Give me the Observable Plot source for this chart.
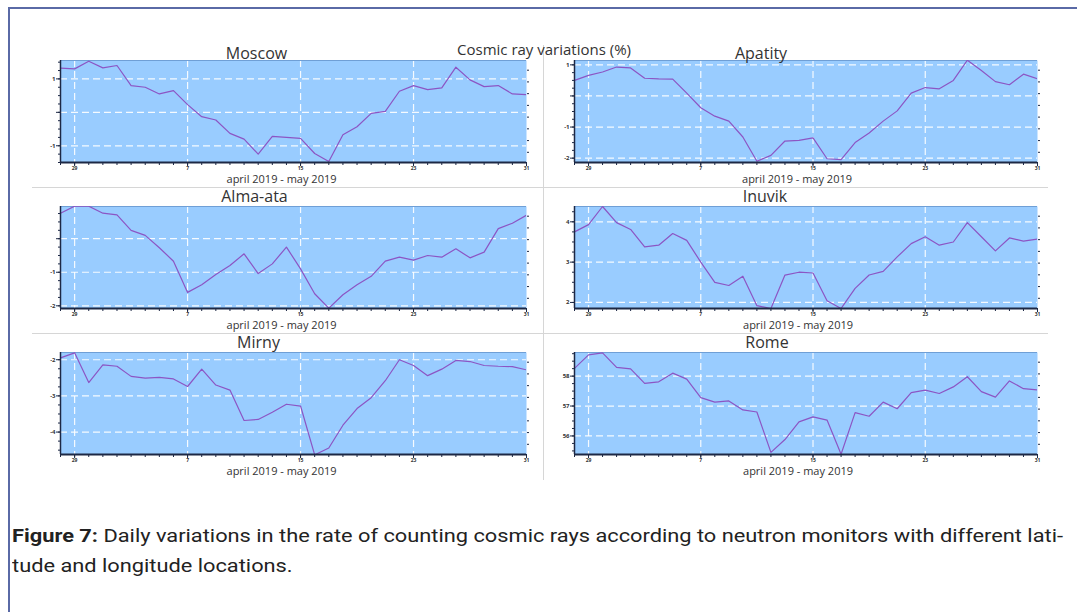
<!DOCTYPE html>
<html>
<head>
<meta charset="utf-8">
<script src="https://cdn.jsdelivr.net/npm/d3@7"></script>
<script src="https://cdn.jsdelivr.net/npm/@observablehq/plot@0.6"></script>
<style>
  html, body { margin: 0; padding: 0; background: #fff; }
  body { width: 1077px; height: 612px; position: relative; overflow: hidden; font-family: "Open Sans", "Noto Sans", sans-serif; }
  #frame { position: absolute; left: 8px; top: 7px; width: 1100px; height: 700px; border-top: 2px solid #5a6aa6; border-left: 2px solid #5a6aa6; box-sizing: border-box; }
  .panel { position: absolute; }
  .sep { position: absolute; background: #d6d6d6; z-index: 5; }
  #suptitle { position: absolute; left: 544px; top: 49px; transform: translate(-50%, -50%); font-size: 15px; color: #333; white-space: nowrap; z-index: 6; }
  .cap { position: absolute; left: 12px; white-space: nowrap; font-family: "Roboto", sans-serif; font-size: 18.5px; color: #222; transform-origin: 0 50%; }
</style>
</head>
<body>
<div id="frame"></div>
<div id="suptitle">Cosmic ray variations (%)</div>
<div class="sep" style="left:32px; top:187px; width:1016px; height:1px;"></div>
<div class="sep" style="left:32px; top:333px; width:1016px; height:1px;"></div>
<div class="sep" style="left:543px; top:45px; width:1px; height:435px;"></div>
<div class="cap" id="cap1" style="top:525px;"><b>Figure 7:</b> Daily variations in the rate of counting cosmic rays according to neutron monitors with different lati-</div>
<div class="cap" id="cap2" style="top:555px;">tude and longitude locations.</div>
<script>
// ---- data ----
const dates = [
  "2019-04-28","2019-04-29","2019-04-30","2019-05-01","2019-05-02","2019-05-03","2019-05-04",
  "2019-05-05","2019-05-06","2019-05-07","2019-05-08","2019-05-09","2019-05-10","2019-05-11",
  "2019-05-12","2019-05-13","2019-05-14","2019-05-15","2019-05-16","2019-05-17","2019-05-18",
  "2019-05-19","2019-05-20","2019-05-21","2019-05-22","2019-05-23","2019-05-24","2019-05-25",
  "2019-05-26","2019-05-27","2019-05-28","2019-05-29","2019-05-30","2019-05-31"
];
const majorDates = ["2019-04-29","2019-05-07","2019-05-15","2019-05-23","2019-05-31"];
const xLabel = "april 2019 - may 2019";

const moscow = [1.32,1.30,1.53,1.33,1.40,0.80,0.75,0.55,0.65,0.23,-0.13,-0.23,-0.63,-0.80,-1.25,-0.72,-0.75,-0.78,-1.23,-1.47,-0.67,-0.43,-0.03,0.03,0.63,0.80,0.68,0.73,1.35,0.97,0.77,0.80,0.55,0.53];
const apatity = [0.50,0.66,0.77,0.93,0.90,0.57,0.55,0.54,0.09,-0.38,-0.65,-0.81,-1.32,-2.10,-1.91,-1.45,-1.43,-1.35,-2.02,-2.05,-1.50,-1.19,-0.81,-0.48,0.09,0.27,0.23,0.50,1.15,0.82,0.46,0.36,0.70,0.55];
const almaAta = [0.76,0.97,0.97,0.76,0.71,0.25,0.10,-0.27,-0.67,-1.60,-1.37,-1.07,-0.80,-0.45,-1.04,-0.75,-0.25,-0.90,-1.64,-2.07,-1.67,-1.37,-1.12,-0.67,-0.55,-0.64,-0.50,-0.55,-0.30,-0.57,-0.40,0.30,0.46,0.70];
const inuvik = [3.75,3.93,4.38,3.98,3.81,3.38,3.42,3.71,3.54,3.00,2.50,2.42,2.65,1.92,1.85,2.68,2.75,2.73,2.04,1.85,2.35,2.68,2.77,3.13,3.46,3.63,3.42,3.50,3.98,3.63,3.28,3.60,3.52,3.57];
const mirny = [-1.95,-1.81,-2.63,-2.14,-2.18,-2.46,-2.51,-2.49,-2.53,-2.74,-2.26,-2.70,-2.84,-3.68,-3.65,-3.45,-3.23,-3.28,-4.63,-4.44,-3.81,-3.35,-3.05,-2.58,-2.00,-2.16,-2.44,-2.26,-2.02,-2.05,-2.16,-2.18,-2.19,-2.28];
const rome = [58.26,58.71,58.78,58.29,58.24,57.76,57.81,58.10,57.90,57.28,57.13,57.17,56.87,56.80,55.45,55.88,56.47,56.64,56.53,55.39,56.78,56.66,57.13,56.91,57.45,57.53,57.42,57.64,57.98,57.48,57.30,57.84,57.58,57.54];

const names = ["Moscow","Apatity","Alma-ata","Inuvik","Mirny","Rome"];
const seriesList = [moscow, apatity, almaAta, inuvik, mirny, rome];
const yDomains = [[-1.5,1.55],[-2.14,1.14],[-2.08,0.96],[1.85,4.38],[-4.62,-1.80],[55.38,58.79]];
const yMajor = [[-1,0,1],[-2,-1,0,1],[-2,-1,0],[2,3,4],[-4,-3,-2],[56,57,58]];

// ---- layout (styles only) ----
const layout = [
  {left: 24,  top: 36,  ml: 36, titleDx: -37, titleDy: -7,  labelDx: -12},
  {left: 538, top: 36,  ml: 36, titleDx: -45, titleDy: -7,  labelDx: -9},
  {left: 24,  top: 182, ml: 36, titleDx: -39, titleDy: -10, labelDx: -12},
  {left: 538, top: 182, ml: 36, titleDx: -41, titleDy: -10, labelDx: -8},
  {left: 24,  top: 328, ml: 36, titleDx: -35, titleDy: -10, labelDx: -12},
  {left: 538, top: 328, ml: 36, titleDx: -39, titleDy: -10, labelDx: -8}
];
const widths = [512, 509, 512, 509, 512, 509];

const parse = d3.utcParse("%Y-%m-%d");
const dateObjs = dates.map(parse);
const majorObjs = majorDates.map(parse);
const navy = "#1d2845";
const bg = "#99ccff";
const lineColor = "#8c55c4";

names.forEach((name, i) => {
  const data = dateObjs.map((d, k) => ({date: d, value: seriesList[i][k]}));
  const [lo, hi] = yDomains[i];
  const minorY = d3.range(Math.ceil(lo * 4) / 4, hi + 1e-9, 0.25);
  const rightY = d3.range(lo + (hi - lo) * 0.1, hi, (hi - lo) * 0.115);
  const L = layout[i];
  const chart = Plot.plot({
    width: widths[i],
    height: 152,
    marginLeft: L.ml,
    marginRight: 10,
    marginTop: 24,
    marginBottom: 26,
    style: {background: "transparent", overflow: "visible"},
    x: {type: "utc", domain: [dateObjs[0], dateObjs[dateObjs.length - 1]]},
    y: {domain: [lo, hi]},
    marks: [
      Plot.frame({fill: bg, stroke: "none"}),
      Plot.gridX(majorObjs.slice(0, 4), {stroke: "#ffffff", strokeOpacity: 0.9, strokeDasharray: "7,4", strokeWidth: 1.2}),
      Plot.gridY(yMajor[i], {stroke: "#ffffff", strokeOpacity: 0.9, strokeDasharray: "7,4", strokeWidth: 1.2}),
      Plot.ruleY([hi], {stroke: "#6f9fd6", strokeWidth: 1}),
      Plot.axisX(dateObjs, {anchor: "bottom", tickSize: 3, tickFormat: () => "", label: null, stroke: navy}),
      Plot.axisX(majorObjs, {anchor: "bottom", tickSize: 4, tickPadding: 0, tickFormat: d => String(d.getUTCDate()), fontSize: 5, fontWeight: "bold", fill: "#333", label: null, stroke: navy}),
      Plot.axisY(minorY, {anchor: "left", tickSize: 2, tickFormat: () => "", label: null, stroke: navy}),
      Plot.axisY(yMajor[i], {anchor: "left", tickSize: 4, tickPadding: 1, tickFormat: v => v === 0 ? "" : String(v), fontSize: 6, fontWeight: "bold", fill: "#333", label: null, stroke: navy}),
      Plot.axisY(rightY, {anchor: "right", tickSize: 2, tickFormat: () => "", label: null, stroke: navy}),
      Plot.line(data, {x: "date", y: "value", stroke: lineColor, strokeWidth: 1.2, clip: true}),
      Plot.ruleY([lo], {stroke: navy, strokeWidth: 2}),
      Plot.ruleX([dateObjs[0]], {stroke: navy, strokeWidth: 1.5}),
      Plot.text([name], {frameAnchor: "top", dx: L.titleDx, dy: L.titleDy, text: d => d, fontSize: 16, fill: "#333", lineAnchor: "middle", fontFamily: "Open Sans"}),
      Plot.text([xLabel], {frameAnchor: "bottom", dx: L.labelDx, dy: 17, text: d => d, fontSize: 11, fill: "#333", lineAnchor: "middle", fontFamily: "Open Sans"})
    ]
  });
  const div = document.createElement("div");
  div.className = "panel";
  div.style.left = L.left + "px";
  div.style.top = L.top + "px";
  div.appendChild(chart);
  document.body.appendChild(div);
});

// fit caption line 1 to the reference width (horizontal condensing)
const cap1 = document.getElementById("cap1");
const w = cap1.getBoundingClientRect().width;
const s = 1051 / w;
cap1.style.transform = "scaleX(" + s + ")";
document.getElementById("cap2").style.transform = "scaleX(" + s + ")";
</script>
</body>
</html>
